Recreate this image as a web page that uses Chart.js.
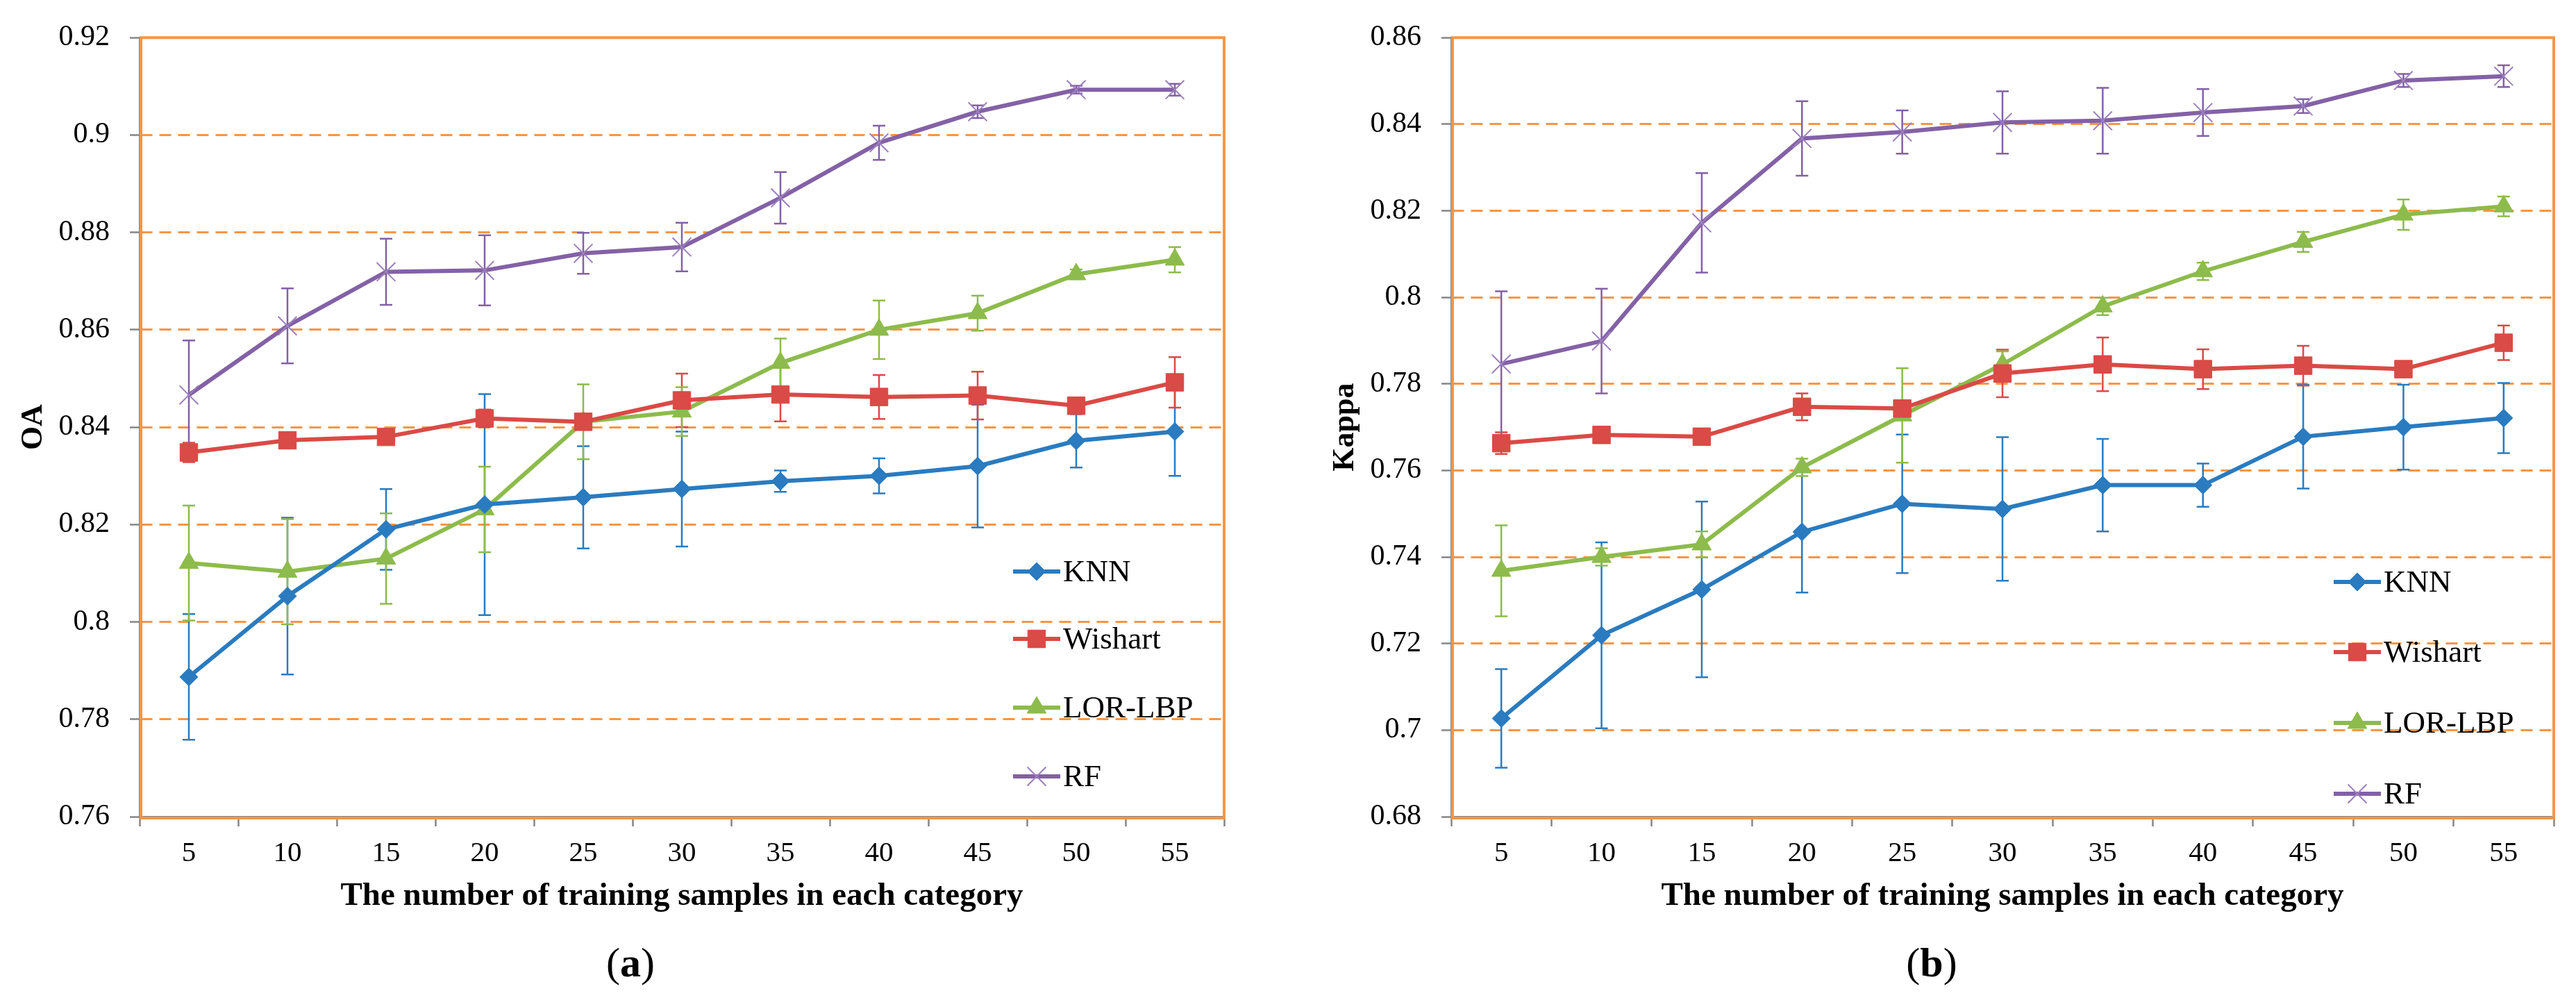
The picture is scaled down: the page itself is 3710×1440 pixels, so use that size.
<!DOCTYPE html>
<html>
<head>
<meta charset="utf-8">
<script src="https://cdn.jsdelivr.net/npm/chart.js@4.4.1/dist/chart.umd.min.js"></script>
<style>
  html, body { margin: 0; padding: 0; background: #fff; }
  #wrap { position: relative; width: 3710px; height: 1440px; overflow: hidden; }
  .panel { position: absolute; top: 0; width: 1855px; height: 1440px; }
  .caption {
    position: absolute; top: 1346px; width: 200px; height: 80px; line-height: 80px;
    text-align: center; font-family: 'Liberation Serif', 'Times New Roman', serif;
    font-size: 60px; color: #000;
  }
</style>
</head>
<body>
<div id="wrap">
  <div class="panel" style="left:0"><canvas id="oaChart" width="1855" height="1440"></canvas></div>
  <div class="panel" style="left:1855px"><canvas id="kappaChart" width="1855" height="1440"></canvas></div>
  <div class="caption" style="left:808px">(<b>a</b>)</div>
  <div class="caption" style="left:2682px">(<b>b</b>)</div>
</div>
<script>
const sampleCounts = ['5', '10', '15', '20', '25', '30', '35', '40', '45', '50', '55'];
const methodNames = ['KNN', 'Wishart', 'LOR-LBP', 'RF'];

// (a) overall accuracy, mean and half error bar
const oaKnn = [0.7887, 0.8053, 0.8190, 0.8241, 0.8256, 0.8273, 0.8289, 0.8300, 0.8320, 0.8372, 0.8391];
const oaKnnErr = [0.0129, 0.0161, 0.0083, 0.0227, 0.0105, 0.0118, 0.0022, 0.0036, 0.0126, 0.0055, 0.0091];
const oaWishart = [0.8348, 0.8373, 0.8380, 0.8418, 0.8411, 0.8455, 0.8467, 0.8462, 0.8465, 0.8444, 0.8492];
const oaWishartErr = [0.0020, 0.0010, 0.0010, 0.0018, 0.0010, 0.0055, 0.0055, 0.0045, 0.0049, 0.0010, 0.0052];
const oaLbp = [0.8121, 0.8103, 0.8130, 0.8231, 0.8411, 0.8432, 0.8532, 0.8600, 0.8634, 0.8714, 0.8744];
const oaLbpErr = [0.0118, 0.0108, 0.0093, 0.0088, 0.0077, 0.0050, 0.0050, 0.0060, 0.0036, 0.0010, 0.0026];
const oaRf = [0.8466, 0.8608, 0.8719, 0.8722, 0.8757, 0.8770, 0.8871, 0.8984, 0.9048, 0.9093, 0.9093];
const oaRfErr = [0.0112, 0.0077, 0.0068, 0.0072, 0.0042, 0.0050, 0.0053, 0.0035, 0.0013, 0.0008, 0.0012];

// (b) kappa
const kKnn = [0.7027, 0.7219, 0.7325, 0.7458, 0.7523, 0.7511, 0.7566, 0.7566, 0.7678, 0.7700, 0.7721];
const kKnnErr = [0.0114, 0.0215, 0.0203, 0.0140, 0.0160, 0.0166, 0.0107, 0.0050, 0.0120, 0.0098, 0.0081];
const kWishart = [0.7663, 0.7682, 0.7678, 0.7747, 0.7743, 0.7824, 0.7845, 0.7834, 0.7842, 0.7834, 0.7895];
const kWishartErr = [0.0025, 0.0010, 0.0010, 0.0031, 0.0015, 0.0055, 0.0062, 0.0046, 0.0046, 0.0010, 0.0040];
const kLbp = [0.7368, 0.7400, 0.7429, 0.7607, 0.7727, 0.7845, 0.7979, 0.8060, 0.8128, 0.8191, 0.8210];
const kLbpErr = [0.0105, 0.0020, 0.0030, 0.0020, 0.0109, 0.0030, 0.0020, 0.0020, 0.0023, 0.0035, 0.0023];
const kRf = [0.7846, 0.7899, 0.8172, 0.8367, 0.8382, 0.8404, 0.8408, 0.8427, 0.8442, 0.8501, 0.8511];
const kRfErr = [0.0168, 0.0121, 0.0115, 0.0086, 0.0050, 0.0072, 0.0076, 0.0054, 0.0016, 0.0015, 0.0025];

const xTitle = 'The number of training samples in each category';

const FONT = "'Liberation Serif', 'Times New Roman', serif";
const ORANGE = '#F79646';
const AXIS_GRAY = '#868686';
const styles = [
    { color: '#2A7BBF', point: 'rectRot', radius: 13, border: '#2A7BBF', bw: 1 },
    { color: '#DA4A46', point: 'rect', radius: 18, border: '#DA4A46', bw: 1 },
    { color: '#8DBB4C', point: 'triangle', radius: 16, border: '#8DBB4C', bw: 1 },
    { color: '#8361A6', point: 'crossRot', radius: 19, border: '#9C80BD', bw: 2 }
];

Chart.defaults.font.family = FONT;
Chart.defaults.color = '#000';

// orange frame round the plot area
const plotFrame = {
    id: 'plotFrame',
    beforeDatasetsDraw(chart) {
        const { ctx, chartArea: a } = chart;
        ctx.save();
        ctx.strokeStyle = ORANGE;
        ctx.lineWidth = 4;
        ctx.strokeRect(a.left + 2, a.top, a.right - a.left - 2, a.bottom - a.top + 2);
        ctx.restore();
    }
};

const errorBars = {
    id: 'errorBars',
    beforeDatasetsDraw(chart) {
        const { ctx, scales: { x, y } } = chart;
        chart.data.datasets.forEach(ds => {
            ctx.save();
            ctx.strokeStyle = ds.borderColor;
            ctx.lineWidth = 2.5;
            ds.errors.forEach((e, j) => {
                const px = x.getPixelForValue(j);
                const hi = y.getPixelForValue(ds.data[j] + e);
                const lo = y.getPixelForValue(ds.data[j] - e);
                ctx.beginPath();
                ctx.moveTo(px, hi); ctx.lineTo(px, lo);
                ctx.moveTo(px - 9, hi); ctx.lineTo(px + 9, hi);
                ctx.moveTo(px - 9, lo); ctx.lineTo(px + 9, lo);
                ctx.stroke();
            });
            ctx.restore();
        });
    }
};

const insideLegend = {
    id: 'insideLegend',
    afterDatasetsDraw(chart, args, opts) {
        const { ctx } = chart;
        chart.data.datasets.forEach((ds, i) => {
            const y = opts.rows[i];
            ctx.save();
            ctx.strokeStyle = ds.borderColor;
            ctx.lineWidth = 6;
            ctx.beginPath();
            ctx.moveTo(opts.x, y);
            ctx.lineTo(opts.x + 68, y);
            ctx.stroke();
            ctx.fillStyle = ds.pointBackgroundColor;
            ctx.strokeStyle = ds.pointBorderColor;
            ctx.lineWidth = ds.pointBorderWidth;
            Chart.helpers.drawPoint(ctx, { pointStyle: ds.pointStyle, radius: ds.pointRadius, borderWidth: ds.pointBorderWidth }, opts.x + 34, y);
            ctx.fillStyle = '#000';
            ctx.font = '45px ' + FONT;
            ctx.textBaseline = 'middle';
            ctx.textAlign = 'left';
            ctx.fillText(ds.label, opts.x + 72, y + 2);
            ctx.restore();
        });
    }
};

function buildSets(values, errors) {
    return methodNames.map((name, i) => ({
        label: name,
        data: values[i],
        errors: errors[i],
        borderColor: styles[i].color,
        backgroundColor: styles[i].color,
        borderWidth: 6,
        tension: 0,
        pointStyle: styles[i].point,
        pointRadius: styles[i].radius,
        pointHoverRadius: styles[i].radius,
        pointBackgroundColor: styles[i].color,
        pointBorderColor: styles[i].border,
        pointBorderWidth: styles[i].bw
    }));
}

function makeChart(id, opt) {
    return new Chart(document.getElementById(id), {
        type: 'line',
        data: { labels: sampleCounts, datasets: buildSets(opt.values, opt.errors) },
        plugins: [plotFrame, errorBars, insideLegend],
        options: {
            responsive: false,
            animation: false,
            devicePixelRatio: 1,
            layout: { padding: { left: 0, top: opt.top, right: opt.right, bottom: 121 } },
            plugins: {
                legend: { display: false },
                tooltip: { enabled: false },
                insideLegend: opt.legend
            },
            scales: {
                x: {
                    offset: true,
                    afterFit: s => { s.height = 143; },
                    grid: {
                        offset: true, drawOnChartArea: false, drawTicks: true,
                        tickLength: 14, tickColor: AXIS_GRAY, tickWidth: 2.5
                    },
                    border: { color: AXIS_GRAY, width: 2.5 },
                    ticks: { autoSkip: false, maxRotation: 0, padding: 15, font: { size: 41 } },
                    title: {
                        display: true, text: xTitle, padding: 0,
                        font: { size: 47, weight: 'bold' }
                    }
                },
                y: {
                    min: opt.min, max: opt.max,
                    afterFit: s => { s.width = opt.left; },
                    grid: {
                        color: ORANGE, lineWidth: 3, drawTicks: true,
                        tickLength: 14, tickColor: AXIS_GRAY, tickWidth: 2.5
                    },
                    border: { color: AXIS_GRAY, width: 2.5, dash: [17, 10] },
                    ticks: {
                        stepSize: 0.02, padding: 29, font: { size: 42 },
                        callback: v => String(+v.toFixed(2))
                    },
                    title: {
                        display: true, text: opt.yTitle, padding: { top: opt.titlePad, bottom: 0 },
                        font: { size: 44, weight: 'bold' }
                    }
                }
            }
        }
    });
}

makeChart('oaChart', {
    values: [oaKnn, oaWishart, oaLbp, oaRf],
    errors: [oaKnnErr, oaWishartErr, oaLbpErr, oaRfErr],
    min: 0.76, max: 0.92, yTitle: 'OA',
    left: 201, right: 92, top: 51, titlePad: 22,
    legend: { x: 1459, rows: [823, 920, 1019, 1118] }
});

makeChart('kappaChart', {
    values: [kKnn, kWishart, kLbp, kRf],
    errors: [kKnnErr, kWishartErr, kLbpErr, kRfErr],
    min: 0.68, max: 0.86, yTitle: 'Kappa',
    left: 235, right: 32, top: 52, titlePad: 56,
    legend: { x: 1506, rows: [838, 939, 1041, 1143] }
});
</script>
</body>
</html>
